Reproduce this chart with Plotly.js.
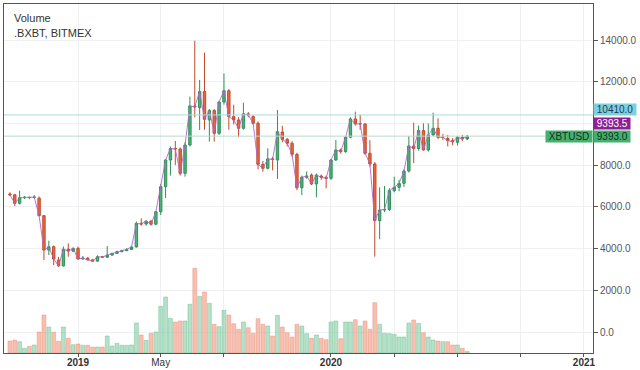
<!DOCTYPE html>
<html><head><meta charset="utf-8">
<script src="https://cdn.plot.ly/plotly-3.0.1.min.js"></script>
<style>html,body{margin:0;padding:0;background:#fff;}#chart{width:640px;height:370px;}</style>
</head><body><div id="chart"></div>
<script>
const weeks = [
"2018-10-01","2018-10-08","2018-10-15","2018-10-22","2018-10-29","2018-11-05","2018-11-12","2018-11-19","2018-11-26","2018-12-03","2018-12-10","2018-12-17","2018-12-24","2018-12-31",
"2019-01-07","2019-01-14","2019-01-21","2019-01-28","2019-02-04","2019-02-11","2019-02-18","2019-02-25","2019-03-04","2019-03-11","2019-03-18","2019-03-25","2019-04-01","2019-04-08","2019-04-15","2019-04-22","2019-04-29","2019-05-06","2019-05-13","2019-05-20","2019-05-27","2019-06-03","2019-06-10","2019-06-17","2019-06-24","2019-07-01","2019-07-08","2019-07-15","2019-07-22","2019-07-29","2019-08-05","2019-08-12","2019-08-19","2019-08-26","2019-09-02","2019-09-09","2019-09-16","2019-09-23","2019-09-30","2019-10-07","2019-10-14","2019-10-21","2019-10-28","2019-11-04","2019-11-11","2019-11-18","2019-11-25","2019-12-02","2019-12-09","2019-12-16","2019-12-23","2019-12-30",
"2020-01-06","2020-01-13","2020-01-20","2020-01-27","2020-02-03","2020-02-10","2020-02-17","2020-02-24","2020-03-02","2020-03-09","2020-03-16","2020-03-23","2020-03-30","2020-04-06","2020-04-13","2020-04-20","2020-04-27","2020-05-04","2020-05-11","2020-05-18","2020-05-25","2020-06-01","2020-06-08","2020-06-15","2020-06-22","2020-06-29","2020-07-06","2020-07-13","2020-07-20"];

const openP = [6620,6580,6170,6440,6460,6450,6420,5580,3930,4090,3450,3170,3970,3880,
4010,3500,3540,3460,3400,3610,3590,3690,3770,3850,3900,3960,4080,5210,5180,5320,5170,5770,6970,8250,8800,8780,7610,8970,10840,10760,11530,10170,10620,9530,11030,11570,10330,10170,9770,10460,10330,10010,8040,7850,8300,8250,9590,9240,9050,8520,6920,7420,7530,7100,7480,7420,
7370,8250,8730,8650,9340,10220,9980,9980,8570,8060,5340,5850,5880,6780,6940,7130,7720,8920,8800,9660,8730,9450,9770,9340,9280,9180,9100,9340,9260];
const highP = [6700,6620,6780,6520,6500,6560,6500,5600,4380,4150,3600,4100,4250,4060,
4100,3650,3600,3500,3680,3650,4120,3800,3900,3950,4020,4120,5300,5450,5350,5360,5800,7100,8300,8900,9160,8850,9100,11290,13970,12090,13400,10700,10700,11100,12400,11650,10900,10300,11000,10550,10400,10100,8200,8810,8400,10650,9890,9300,9150,8600,7500,7700,7600,7600,7550,7500,
8300,9210,8800,9400,10300,10570,10410,10000,9200,8150,6940,7000,6900,7450,7300,7800,9400,10040,9900,10010,10000,10520,10250,9500,9450,9300,9400,9450,9450];
const lowP = [6520,6040,6120,6380,6370,6400,5550,3450,3690,3210,3130,3150,3610,3830,
3480,3480,3430,3370,3380,3560,3560,3650,3740,3830,3880,3930,4050,5100,5100,5100,5120,5610,6430,7500,8010,7500,7450,8900,10300,9690,9700,9130,9130,9450,10900,9700,9950,9340,9700,10300,9950,7800,7690,7800,7750,7340,9100,8900,8400,6800,6570,7350,7050,6460,7300,6890,
7300,8200,8550,8600,9300,9900,9700,8500,7930,3610,4450,5750,5800,6700,6750,6950,7650,8100,8700,8700,8650,9400,9250,9200,8900,8950,8950,9150,9200];
const closeP = [6580,6170,6440,6460,6450,6470,5580,3930,4090,3500,3170,3970,3880,4010,
3500,3540,3460,3400,3610,3590,3690,3770,3850,3900,3960,4080,5210,5180,5320,5170,5770,6970,8250,8800,8780,7610,8970,10840,10800,11530,10200,10620,9530,11030,11570,10330,10170,9770,10460,10410,10010,8040,7850,8300,8280,9610,9240,9050,8520,6920,7420,7480,7100,7530,7420,7370,
8250,8730,8650,9340,10220,9980,9980,8570,8060,5340,5850,5880,6780,6940,7130,7720,8920,8800,9660,8730,9450,9770,9340,9340,9180,9130,9340,9260,9393];
const volume = [120,130,113,47,67,80,210,380,260,207,117,260,147,83,
90,77,77,60,60,60,170,70,97,77,77,80,300,180,127,197,210,467,560,347,310,320,320,487,847,567,610,497,287,263,427,380,293,237,310,253,197,343,287,270,170,377,260,203,160,287,270,193,147,180,147,133,
310,320,143,310,310,333,270,320,237,503,287,197,193,187,160,160,300,330,297,203,160,130,120,113,113,80,80,47,15];

const priceTicks = [0,2000,4000,6000,8000,10000,12000,14000];
const priceTickText = ["0.0","2000.0","4000.0","6000.0","8000.0","","12000.0","14000.0"];
const timeTicks = ["2019-01-07","2019-05-06","2019-08-05","2020-01-06","2020-04-06","2020-07-06","2020-10-05","2021-01-04"];
const timeTickText = ["<b>2019</b>","May","","<b>2020</b>","","","","<b>2021</b>"];
const levelHigh = 10410.0;
const lastIndex = 9393.5;
const lastPrice = 9393.0;
const symbol = "XBTUSD";
const titleLines = ["Volume", ".BXBT, BITMEX"];

const up = openP.map((o,i)=>closeP[i]>=o);
const volFill = up.map(u=>u?'rgba(120,200,155,0.55)':'rgba(240,150,125,0.6)');
const volLine = up.map(u=>u?'rgba(100,185,140,0.7)':'rgba(235,135,110,0.7)');

const traces = [
 {type:'bar', x:weeks, y:volume, yaxis:'y2', width:7*86400000*0.8,
  marker:{color:volFill, line:{color:volLine,width:0.6}}, hoverinfo:'skip'},
 {type:'scatter', mode:'lines', x:weeks, y:closeP, line:{color:'#b066cc',width:0.9}, hoverinfo:'skip'},
 {type:'candlestick', x:weeks, open:openP, high:highP, low:lowP, close:closeP,
  increasing:{line:{color:'#2f8f57',width:1}, fillcolor:'#4cb27a'},
  decreasing:{line:{color:'#c2492a',width:1}, fillcolor:'#e8693f'},
  whiskerwidth:0}
];

const layout = {
 width:640, height:370, margin:{l:4,r:47,t:4,b:17},
 paper_bgcolor:'#fff', plot_bgcolor:'#fff', showlegend:false,
 font:{family:'Liberation Sans, Arial, sans-serif', size:10, color:'#555'},
 xaxis:{type:'date', range:['2018-09-22 12:00','2021-01-17'], rangeslider:{visible:false},
  tickvals:timeTicks, ticktext:timeTickText, ticks:'outside', ticklen:3, tickcolor:'#555',
  ticklabelstandoff:-3,
  showgrid:true, gridcolor:'#eef0f3', showline:true, linecolor:'#555', mirror:true,
  tickfont:{size:10,color:'#333'}, zeroline:false, fixedrange:true},
 yaxis:{side:'right', range:[-1007,15731], tickvals:priceTicks, ticktext:priceTickText,
  ticks:'outside', ticklen:4, tickcolor:'#555', showgrid:true, gridcolor:'#eef0f3',
  showline:true, linecolor:'#555', mirror:true, zeroline:false, tickfont:{size:10,color:'#555'}},
 yaxis2:{overlaying:'y', range:[0,3490], visible:false, fixedrange:true},
 shapes:[
  {type:'line', xref:'paper', x0:0, x1:1, yref:'y', y0:levelHigh, y1:levelHigh, line:{color:'#a8dbe4',width:1}},
  {type:'line', xref:'paper', x0:0, x1:1, yref:'y', y0:lastPrice, y1:lastPrice, line:{color:'#b9dccb',width:1}}
 ],
 annotations:[
  {xref:'paper', yref:'paper', x:0.0136, y:0.96, xanchor:'left', yanchor:'middle', showarrow:false,
   text:titleLines[0], font:{size:11,color:'#333'}},
  {xref:'paper', yref:'paper', x:0.0136, y:0.917, xanchor:'left', yanchor:'middle', showarrow:false,
   text:titleLines[1], font:{size:11,color:'#333'}},
  {xref:'paper', yref:'y', x:1, y:levelHigh, xanchor:'left', yanchor:'middle', showarrow:false, yshift:5,
   text:' '+levelHigh.toFixed(1)+' ', bgcolor:'#7fd0dc', borderpad:0, font:{size:10,color:'#1d3c5a'}},
  {xref:'paper', yref:'y', x:1, y:lastIndex, xanchor:'left', yanchor:'middle', showarrow:false, yshift:13,
   text:' '+lastIndex.toFixed(1)+' ', bgcolor:'#8e1f94', borderpad:0, font:{size:10,color:'#fff'}},
  {xref:'paper', yref:'y', x:1, y:lastPrice, xanchor:'left', yanchor:'middle', showarrow:false,
   text:' '+lastPrice.toFixed(1)+' ', bgcolor:'#45b06e', borderpad:0, font:{size:10,color:'#10301c'}},
  {xref:'paper', yref:'y', x:1, y:lastPrice, xanchor:'right', yanchor:'middle', showarrow:false,
   text:' '+symbol+' ', bgcolor:'#45b06e', borderpad:0, font:{size:10,color:'#10301c'}}
 ]
};
Plotly.newPlot('chart', traces, layout, {displayModeBar:false, staticPlot:true});
</script></body></html>
